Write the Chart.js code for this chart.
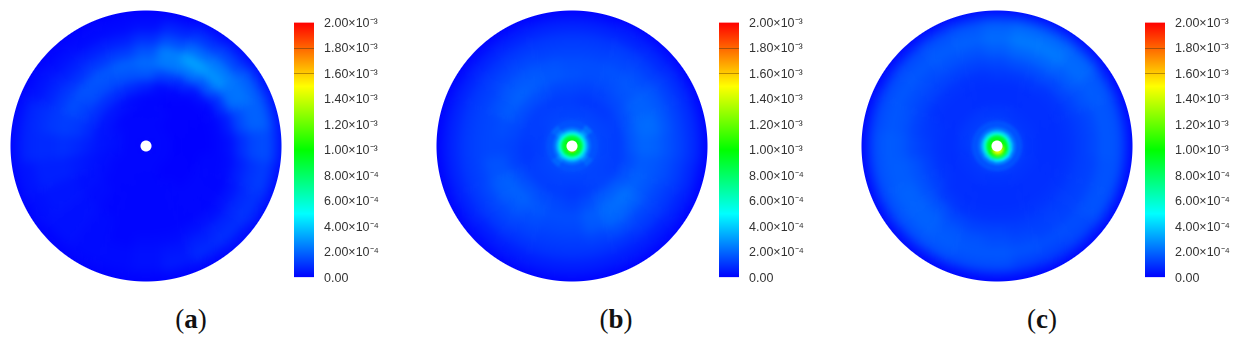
<!DOCTYPE html>
<html><head><meta charset="utf-8">
<script src="https://cdn.jsdelivr.net/npm/chart.js@4/dist/chart.umd.min.js"></script>
<style>
html,body{margin:0;padding:0;background:#fff;width:1239px;height:343px;overflow:hidden}
.disc{position:absolute;width:300px;height:300px;
 -webkit-mask-image:radial-gradient(circle at 150px 150px,transparent 5px,#000 6px,#000 135px,transparent 136px);
 mask-image:radial-gradient(circle at 150px 150px,transparent 5px,#000 6px,#000 135px,transparent 136px)}
.disc canvas{position:absolute}
.field{left:0;top:0;filter:blur(5px)}
.hot{left:125px;top:125px;filter:blur(.8px)}
.bar{position:absolute;top:5px}
.cap{position:absolute;top:303px;font:27px "Liberation Serif",serif;color:#111;line-height:32px;transform:translateX(-50%)}
.cap b{font-weight:bold}
</style></head><body>
<script>
// Contour colour scale (units of 10⁻⁴, as printed on the colour bar)
const scaleValues = [0, 5, 10, 15, 20];
const scaleColors = [[0,0,255],[0,255,255],[0,255,0],[255,255,0],[255,0,0]];
const tickValues = [0,2e-4,4e-4,6e-4,8e-4,1e-3,1.2e-3,1.4e-3,1.6e-3,1.8e-3,2e-3];
const tickLabels = ['0.00','2.00×10⁻⁴','4.00×10⁻⁴','6.00×10⁻⁴','8.00×10⁻⁴','1.00×10⁻³','1.20×10⁻³','1.40×10⁻³','1.60×10⁻³','1.80×10⁻³','2.00×10⁻³'];
const captions = ['a','b','c'];

// Polar sampling of each disc: ring thicknesses, outside to centre, and equal sectors clockwise from 12 o'clock
const ringThickness = [15.5,8,12,12,12,12,12,12,14,15,25];
const sectorSpan = [15,15,15,15,15,15,15,15,15,15,15,15,15,15,15,15,15,15,15,15,15,15,15,15];
const hotThickness = [5,3,2.5,2.5,2.5,2,6.5];
const hotSpan = [22.5,22.5,22.5,22.5,22.5,22.5,22.5,22.5,22.5,22.5,22.5,22.5,22.5,22.5,22.5,22.5];

// Values in units of 10⁻⁴. One row per ring.
const discA = [
[0,0,.1,.1,.2,.2,.2,.1,.1,.1,0,0,0,0,0,0,0,0,.1,.1,0,0,0,0],
[.1,.2,.4,.6,.9,1,.9,.7,.6,.4,.3,.2,.1,.1,.1,.1,.2,.3,.3,.3,.2,.1,.1,.1],
[.3,.7,1.1,1.4,1.9,1.9,1.5,1.2,1,.9,.8,.5,.3,.2,.2,.3,.3,.4,.7,.7,.4,.3,.2,.2],
[.9,1.5,2.1,2.4,2.3,1.9,1.4,1,.8,.7,.6,.4,.3,.2,.2,.3,.4,.6,.8,.9,.7,.6,.6,.6],
[1.6,2.5,3.2,2.9,2.2,1.4,.9,.6,.4,.3,.3,.2,.2,.1,.2,.3,.4,.6,.8,1.1,1.1,1,1.1,1.2],
[2.1,2.4,2.3,1.7,.9,.5,.3,.2,.1,.1,.1,.1,.1,.1,.2,.3,.4,.6,.9,1.2,1.5,1.6,1.7,1.9],
[1.7,1.2,.8,.3,.1,.1,.1,.1,.1,.1,.1,.1,.1,.1,.1,.2,.3,.5,.8,1.1,1.3,1.5,1.5,1.6],
[.6,.2,.1,0,0,0,0,.1,.1,.1,.1,.1,.1,.1,.1,.2,.3,.4,.6,.8,.9,.9,.9,.8],
[.1,.1,0,0,0,0,0,0,0,0,.1,.1,.1,.1,.1,.1,.2,.3,.4,.4,.4,.4,.3,.2],
[.1,.1,.1,0,0,0,0,0,0,0,0,.1,.1,.1,.1,.1,.1,.2,.3,.3,.2,.1,.1,.1],
[.1,.1,.1,.1,.1,.1,.1,.1,.1,.1,.1,.1,.1,.1,.1,.1,.1,.1,.1,.1,.1,.1,.1,.1]];
const discB = [
[0,0,0,0,0,0,0,0,0,0,0,0,0,0,0,0,0,0,0,0,0,0,0,0],
[.3,.3,.4,.4,.4,.4,.4,.3,.3,.3,.3,.3,.3,.3,.3,.3,.3,.3,.3,.3,.3,.3,.3,.3],
[.7,.7,.7,.8,.9,.9,.9,.8,.7,.6,.6,.6,.6,.6,.6,.6,.7,.7,.7,.7,.7,.7,.7,.7],
[1.1,1.1,1.2,1.2,1.3,1.3,1.3,1.2,1.1,1.1,1,1,1,1,1,1.1,1.1,1.1,1.1,1.1,1.1,1.1,1.1,1.1],
[1.3,1.3,1.4,1.5,1.7,1.7,1.6,1.5,1.4,1.4,1.5,1.3,1.2,1.2,1.3,1.4,1.4,1.3,1.3,1.3,1.3,1.4,1.4,1.3],
[1.5,1.5,1.6,1.7,1.9,2.1,1.9,1.7,1.7,1.9,2,1.7,1.4,1.4,1.5,1.7,1.8,1.6,1.4,1.4,1.6,1.7,1.7,1.6],
[1.6,1.5,1.5,1.6,1.9,2.1,2,1.8,1.9,2.2,2.1,1.8,1.5,1.5,1.7,1.9,1.9,1.6,1.4,1.5,1.8,1.9,1.8,1.7],
[1.4,1.3,1.3,1.4,1.5,1.7,1.7,1.5,1.6,1.8,1.8,1.5,1.3,1.4,1.5,1.6,1.5,1.3,1.3,1.4,1.5,1.5,1.5,1.4],
[1.2,1.1,1.1,1.1,1.2,1.2,1.2,1.2,1.2,1.3,1.3,1.2,1.1,1.2,1.2,1.2,1.2,1.1,1.1,1.2,1.2,1.2,1.2,1.2],
[1.3,1.3,1.3,1.3,1.3,1.3,1.3,1.3,1.3,1.3,1.3,1.3,1.3,1.3,1.3,1.3,1.3,1.2,1.2,1.2,1.2,1.3,1.3,1.3],
[1.7,1.7,1.7,1.7,1.7,1.7,1.7,1.7,1.7,1.7,1.7,1.7,1.7,1.7,1.7,1.7,1.7,1.7,1.7,1.7,1.7,1.7,1.7,1.7]];
const discC = [
[.1,.1,.1,.1,0,0,0,0,0,0,0,0,0,0,0,0,0,0,0,0,0,0,.1,.1],
[.9,1,1,.9,.7,.7,.7,.7,.7,.6,.6,.5,.5,.5,.5,.6,.7,.7,.7,.7,.6,.6,.7,.8],
[1.9,2.1,2.1,2,1.7,1.6,1.6,1.6,1.6,1.4,1.3,1.3,1.5,1.5,1.6,1.6,1.6,1.6,1.6,1.5,1.5,1.5,1.6,1.7],
[2.1,2.4,2.4,2.1,1.8,1.7,1.7,1.6,1.6,1.5,1.5,1.6,1.7,1.7,1.8,1.9,1.9,1.8,1.8,1.7,1.7,1.7,1.8,1.9],
[1.8,2,2,1.8,1.6,1.4,1.4,1.3,1.3,1.3,1.3,1.4,1.5,1.6,1.7,1.9,1.9,1.8,1.7,1.6,1.5,1.5,1.6,1.6],
[1.4,1.5,1.5,1.4,1.3,1.2,1.2,1.2,1.2,1.2,1.2,1.2,1.3,1.3,1.4,1.6,1.6,1.6,1.4,1.3,1.3,1.3,1.3,1.3],
[1.1,1.1,1.1,1,1,1,1,1,1,1,1,1,1,1,1,1.1,1.3,1.3,1.2,1.1,1,1,1,1],
[.9,.9,.9,.9,.9,.9,.9,.9,.9,.9,.9,.9,.9,.9,.9,.9,1,1,1,1,.9,.9,.9,.9],
[.9,.9,.9,.9,.9,.9,.9,.9,.9,.9,.9,.9,.9,.9,.9,.9,.9,.9,.9,.9,.9,.9,.9,.9],
[1.1,1.1,1,1,1,1,1,1,1,1,1,1,1,1,1,1,1,1,1.1,1.1,1.1,1.1,1.1,1.1],
[1.5,1.5,1.5,1.5,1.5,1.5,1.5,1.5,1.5,1.5,1.5,1.5,1.5,1.5,1.5,1.5,1.5,1.5,1.5,1.5,1.5,1.5,1.5,1.5]];
const hotB = [
[1.6,1.6,2.2,1.6,1.6,1.6,2,1.6,1.6,1.6,2,1.6,1.6,1.6,2,1.6],
[2.2,2.2,2.8,2.2,2.2,2.2,2.6,2.2,2.2,2.2,2.6,2.2,2.2,2.2,2.6,2.2],
[3.6,3.6,3.8,3.6,3.6,3.6,3.8,3.6,3.6,3.6,3.8,3.6,3.6,3.6,3.8,3.6],
[5.8,5.8,5.8,5.8,5.8,5.8,5.8,5.8,5.8,5.8,5.8,5.8,5.8,5.8,5.8,5.8],
[8.6,8.6,8.6,8.6,8.6,8.6,8.6,8.6,8.8,8.6,8.6,8.6,8.6,8.6,8.6,8.6],
[9.4,9.4,9.4,9.4,9.4,9.4,9.6,9.8,10,9.8,9.6,9.4,9.4,9.4,9.4,9.4],
[10,10,10,10,10.5,11,12,14,17,14,12,11,10.5,10,10,10]];
const hotC = [
[1.6,1.6,1.6,1.6,1.6,1.6,1.6,1.6,1.6,1.6,1.6,1.6,1.6,1.6,1.6,1.6],
[2.2,2.2,2.2,2.2,2.3,2.4,2.6,2.6,2.6,2.4,2.3,2.2,2.2,2.2,2.2,2.2],
[3.6,3.6,3.6,3.6,3.8,4.2,4.6,4.8,4.6,4.2,3.8,3.6,3.6,3.6,3.6,3.6],
[5.8,5.8,5.8,5.8,6.2,6.8,7.6,8,8,7.6,6.6,6,5.8,5.8,5.8,5.8],
[8.8,8.8,8.8,8.8,9.2,10,10.8,11.6,11.6,10.8,9.8,9,8.8,8.8,8.8,8.8],
[9.6,9.6,9.6,9.8,10.6,12.2,13.6,14.4,14.4,13.6,12,10.4,9.8,9.6,9.6,9.6],
[10.4,10.4,10.4,10.6,11.4,13,14.2,15,15,14.2,13,11.4,10.8,10.6,10.4,10.4]];

// ---- chart construction -------------------------------------------------
const discs = [
 {left:-4, top:-4.5, field:discA, hot:null},
 {left:421.5, top:-4.3, field:discB, hot:hotB},
 {left:846.5, top:-4.3, field:discC, hot:hotC}];
const barLefts = [294, 719, 1145];
const capCentres = [191, 616, 1042];

function colorOf(v){
  let i = 0;
  while (i < scaleValues.length-2 && v > scaleValues[i+1]) i++;
  const t = Math.min(1,Math.max(0,(v-scaleValues[i])/(scaleValues[i+1]-scaleValues[i])));
  const a = scaleColors[i], b = scaleColors[i+1];
  return 'rgb('+a.map((c,k)=>Math.round(c+(b[k]-c)*t)).join(',')+')';
}
function polarChart(parent, cls, size, rows, span, weights, cutoutPct, rot){
  const cv = document.createElement('canvas');
  cv.className = cls; cv.width = size; cv.height = size;
  cv.style.width = size+'px'; cv.style.height = size+'px';
  parent.appendChild(cv);
  new Chart(cv, {
    type:'doughnut',
    data:{labels:span.map((_, i)=>String(i)),
      datasets:rows.map((row,r)=>{
        const cols = row.map(colorOf);
        return {data:span, weight:weights[r], backgroundColor:cols, borderColor:cols, borderWidth:1};
      })},
    options:{responsive:false, animation:false, cutout:cutoutPct, rotation:rot,
      layout:{padding:0},
      plugins:{legend:{display:false}, tooltip:{enabled:false}},
      events:[]}
  });
}
discs.forEach((d,i)=>{
  const w = document.createElement('div');
  w.className='disc'; w.style.left=d.left+'px'; w.style.top=d.top+'px';
  document.body.appendChild(w);
  polarChart(w,'field',300,d.field,sectorSpan,ringThickness,0,-7.5);
  if (d.hot) polarChart(w,'hot',50,d.hot,hotSpan,hotThickness,0,-11.25);
});
barLefts.forEach((x)=>{
  const cv = document.createElement('canvas');
  cv.className='bar'; cv.width=90; cv.height=290;
  cv.style.cssText='left:'+x+'px;width:90px;height:290px';
  document.body.appendChild(cv);
  new Chart(cv,{
    type:'bar',
    data:{labels:['scale'],datasets:[{
      data:[[tickValues[0],tickValues[tickValues.length-1]]],
      barPercentage:1,categoryPercentage:1,borderSkipped:false,
      backgroundColor(ctx){
        const c = ctx.chart, a = c.chartArea;
        if(!a) return '#00f';
        const g = c.ctx.createLinearGradient(0,a.bottom,0,a.top);
        scaleValues.forEach((v,k)=>g.addColorStop(v/20,'rgb('+scaleColors[k].join(',')+')'));
        return g;
      }}]},
    options:{responsive:false,animation:false,
      layout:{padding:0},
      plugins:{legend:{display:false},tooltip:{enabled:false}},
      events:[],
      scales:{
        x:{display:false},
        y:{position:'right',min:0,max:2e-3,
          afterFit(s){s.width=70;},
          afterBuildTicks(s){s.ticks=tickValues.map(v=>({value:v}));},
          border:{display:false},
          grid:{z:1,drawTicks:false,
            color(ctx){return ctx.index===9?'#a8500a':ctx.index===8?'#b98a00':'rgba(0,0,0,0)';}},
          ticks:{padding:10,labelOffset:1,color:'#333',autoSkip:false,maxRotation:0,
            font:{family:'"Liberation Sans",Arial,sans-serif',size:12.5},
            callback(v,i){return tickLabels[i];}}
        }
      }}
  });
});
captions.forEach((c,i)=>{
  const s=document.createElement('div');
  s.className='cap'; s.style.left=capCentres[i]+'px';
  s.innerHTML='(<b>'+c+'</b>)';
  document.body.appendChild(s);
});
</script>
</body></html>
